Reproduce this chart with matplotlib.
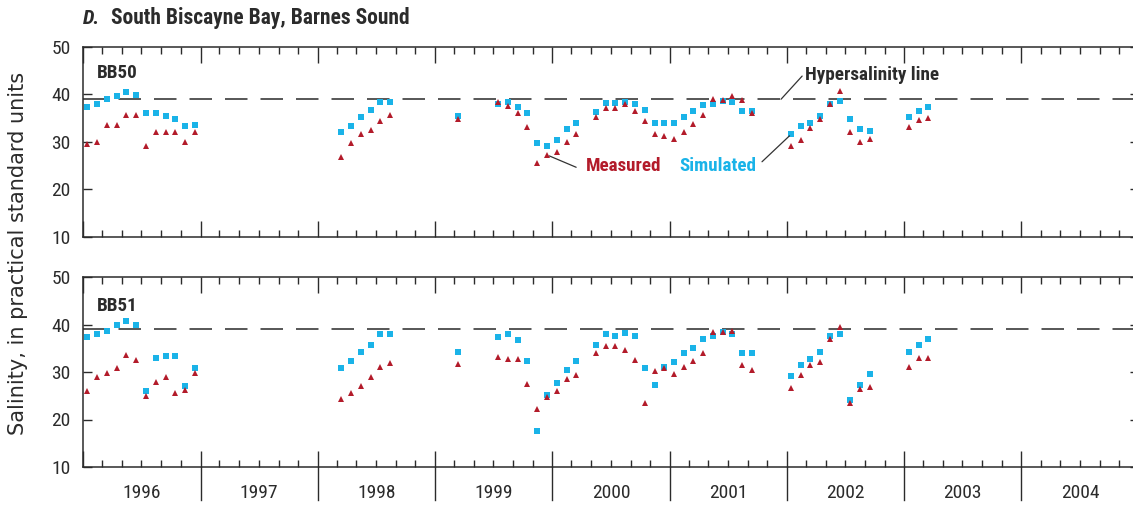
import numpy as np
import pandas as pd
import matplotlib
matplotlib.use('Agg')
import matplotlib.pyplot as plt
import matplotlib.dates as mdates
import matplotlib.transforms as mtransforms
from matplotlib.ticker import NullFormatter

plt.rcParams['font.family'] = ['Roboto Condensed', 'Roboto', 'DejaVu Sans']

# monthly samples (same months at both stations)
sample_months = ['1996-01', '1996-02', '1996-03', '1996-04', '1996-05', '1996-06',
                 '1996-07', '1996-08', '1996-09', '1996-10', '1996-11', '1996-12',
                 '1998-03', '1998-04', '1998-05', '1998-06', '1998-07', '1998-08',
                 '1999-03',
                 '1999-07', '1999-08', '1999-09', '1999-10', '1999-11', '1999-12',
                 '2000-01', '2000-02', '2000-03', '2000-05', '2000-06', '2000-07',
                 '2000-08', '2000-09', '2000-10', '2000-11', '2000-12',
                 '2001-01', '2001-02', '2001-03', '2001-04', '2001-05', '2001-06',
                 '2001-07', '2001-08', '2001-09',
                 '2002-01', '2002-02', '2002-03', '2002-04', '2002-05', '2002-06',
                 '2002-07', '2002-08', '2002-09',
                 '2003-01', '2003-02', '2003-03']

bb50_simulated = [37.3, 37.9, 39.0, 39.6, 40.5, 39.8, 36.0, 36.0, 35.4, 34.8, 33.3, 33.5,
                  32.0, 33.3, 35.2, 36.7, 38.4, 38.5,
                  35.5,
                  38.0, 38.4, 37.3, 36.0, 29.7, 29.1,
                  30.4, 32.7, 33.9, 36.4, 38.3, 38.3, 38.5, 37.9, 36.7, 33.9, 33.9,
                  33.9, 35.2, 36.5, 37.7, 37.9, 38.6, 38.4, 36.5, 36.5,
                  31.7, 33.3, 34.1, 35.4, 38.0, 38.6, 34.8, 32.7, 32.3,
                  35.2, 36.5, 37.3]
bb50_measured = [29.5, 30.1, 33.6, 33.6, 35.7, 35.7, 29.2, 32.0, 32.0, 32.0, 30.1, 32.0,
                 26.9, 29.7, 31.6, 32.5, 34.4, 35.7,
                 34.8,
                 38.5, 37.6, 36.0, 33.2, 25.6, 27.3,
                 27.8, 30.1, 31.6, 35.3, 37.2, 37.2, 37.9, 36.6, 34.4, 31.6, 31.3,
                 30.6, 32.0, 33.8, 35.7, 39.1, 38.8, 39.7, 38.8, 36.0,
                 29.1, 30.4, 32.9, 34.8, 38.1, 40.7, 32.0, 30.0, 30.6,
                 33.1, 34.7, 35.1]

bb51_simulated = [37.4, 38.0, 38.7, 39.9, 40.7, 39.9, 25.9, 33.0, 33.4, 33.4, 27.1, 30.9,
                  30.9, 32.3, 34.2, 35.7, 38.0, 38.0,
                  34.2,
                  37.4, 38.0, 36.7, 32.3, 17.5, 25.2,
                  27.7, 30.5, 32.3, 35.7, 38.0, 37.6, 38.2, 37.6, 30.9, 27.3, 31.1,
                  32.1, 34.0, 35.1, 36.9, 37.6, 38.4, 38.0, 34.0, 34.0,
                  29.2, 31.5, 32.8, 34.2, 37.6, 38.0, 24.2, 27.3, 29.6,
                  34.2, 35.7, 36.9]
bb51_measured = [25.9, 28.9, 29.8, 30.8, 33.5, 32.5, 25.0, 28.0, 28.9, 25.5, 26.2, 29.8,
                 24.4, 25.6, 27.1, 28.9, 31.1, 32.0,
                 31.7,
                 33.2, 32.8, 32.8, 27.4, 22.3, 24.7,
                 25.9, 28.6, 29.3, 34.1, 35.4, 35.4, 34.7, 32.6, 23.4, 30.2, 30.9,
                 29.5, 31.1, 32.3, 33.9, 38.5, 38.5, 38.7, 31.4, 30.5,
                 26.6, 29.3, 31.4, 32.1, 36.9, 39.4, 23.5, 26.5, 26.8,
                 31.0, 32.9, 32.9]

hypersalinity = 39.0
year_labels = ['1996', '1997', '1998', '1999', '2000', '2001', '2002', '2003', '2004']
stations = ['BB50', 'BB51']

red = '#B31B2A'
cyan = '#1AB3E8'
ink = '#2b2b2b'

dates = pd.to_datetime(sample_months) + pd.Timedelta(days=14)

W, H = 1133, 507
fig = plt.figure(figsize=(W / 100, H / 100), dpi=100)


def px_axes(left, top, right, bottom):
    return fig.add_axes([left / W, 1 - bottom / H, (right - left) / W, (bottom - top) / H])


# right spine sits just past the figure edge, only its ticks show
ax_top = px_axes(83, 47, 1139, 237)
ax_bot = px_axes(83, 277, 1139, 467)

panels = [(ax_top, bb50_simulated, bb50_measured, stations[0], 0.865),
          (ax_bot, bb51_simulated, bb51_measured, stations[1], 0.845)]

for ax, sim, meas, name, name_y in panels:
    ax.axhline(hypersalinity, color='#3a3a3a', lw=1.2, dashes=(13.5, 7.8), zorder=1)
    ax.plot(dates, sim, ls='none', marker='s', ms=5.0, mfc=cyan, mec=cyan, mew=0, zorder=3)
    ax.plot(dates, meas, ls='none', marker='^', ms=4.6, mfc=red, mec=red, mew=0, zorder=4)

    ax.set_xlim(np.datetime64('1996-01-01'), np.datetime64('2005-01-01'))
    ax.set_ylim(10, 50)
    ax.set_yticks([10, 20, 30, 40, 50])
    ax.xaxis.set_major_locator(mdates.YearLocator())
    ax.xaxis.set_minor_locator(mdates.MonthLocator(bymonth=[3, 5, 7, 9, 11]))
    ax.xaxis.set_major_formatter(NullFormatter())
    ax.tick_params(axis='x', which='major', direction='in', length=11.5, width=1.0,
                   color=ink, top=True, bottom=True, labelbottom=False)
    ax.tick_params(axis='x', which='minor', direction='in', length=5, width=1.0,
                   color=ink, top=True, bottom=True)
    ax.tick_params(axis='y', direction='in', length=6.5, width=1.0, color=ink,
                   left=True, right=True, labelsize=14, labelcolor=ink, pad=9)
    for s in ax.spines.values():
        s.set_linewidth(1.1)
        s.set_color(ink)

    ax.text(0.0133, name_y, name, transform=ax.transAxes, fontsize=13.7,
            fontweight='bold', color=ink, ha='left', va='center')

# year separators and labels under the lower panel
trans = mtransforms.blended_transform_factory(ax_bot.transData, ax_bot.transAxes)
for i, label in enumerate(year_labels):
    yr = int(label)
    if i > 0:
        xb = mdates.date2num(np.datetime64(f'{yr}-01-01'))
        ax_bot.plot([xb, xb], [0, -33 / 190], transform=trans, color=ink, lw=1.0,
                    clip_on=False)
    xm = mdates.date2num(np.datetime64(f'{yr}-07-02'))
    ax_bot.text(xm, -0.137, label, transform=trans, ha='center', va='center',
                fontsize=14, color=ink)

# call-outs in the upper panel
i_meas = sample_months.index('1999-12')
i_sim = sample_months.index('2002-01')
ax_top.annotate('', xy=(dates[i_meas], bb50_measured[i_meas]), xytext=(0.467, 0.367),
                textcoords='axes fraction',
                arrowprops=dict(arrowstyle='-', color='#333333', lw=0.9, shrinkA=0, shrinkB=2))
ax_top.text(0.476, 0.374, 'Measured', transform=ax_top.transAxes, color=red,
            fontsize=13.7, fontweight='bold', ha='left', va='center')

ax_top.annotate('', xy=(dates[i_sim], bb50_simulated[i_sim]), xytext=(0.643, 0.396),
                textcoords='axes fraction',
                arrowprops=dict(arrowstyle='-', color='#333333', lw=0.9, shrinkA=0, shrinkB=2))
ax_top.text(0.565, 0.374, 'Simulated', transform=ax_top.transAxes, color=cyan,
            fontsize=13.7, fontweight='bold', ha='left', va='center')

ax_top.annotate('', xy=(0.661, hypersalinity), xycoords=('axes fraction', 'data'),
                xytext=(0.681, 0.847), textcoords='axes fraction',
                arrowprops=dict(arrowstyle='-', color='#333333', lw=0.9, shrinkA=0, shrinkB=0))
ax_top.text(0.684, 0.853, 'Hypersalinity line', transform=ax_top.transAxes, color=ink,
            fontsize=13.8, fontweight='bold', ha='left', va='center')

# title and shared y label
fig.text(83 / W, 1 - 18 / H, 'D.', fontsize=15, fontweight='bold', fontstyle='italic',
         color=ink, ha='left', va='center')
fig.text(111 / W, 1 - 18 / H, 'South Biscayne Bay, Barnes Sound', fontsize=15.5,
         fontweight='bold', color=ink, ha='left', va='center')
fig.text(18 / W, 1 - 253 / H, 'Salinity, in practical standard units', rotation=90,
         family=['DejaVu Sans'], fontsize=15, color=ink, ha='center', va='center')

fig.savefig('out.png', dpi=100)
